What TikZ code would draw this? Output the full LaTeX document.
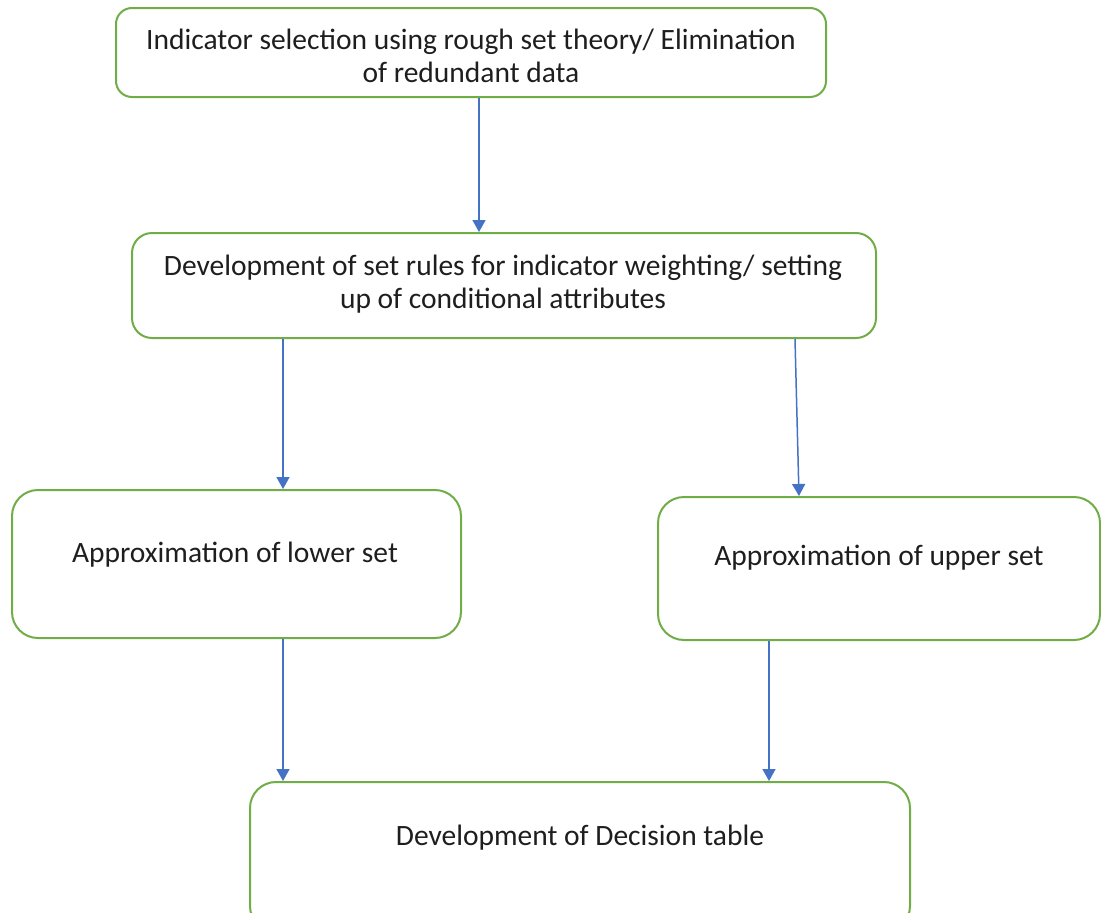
\documentclass[tikz,border=0pt]{standalone}
\usepackage{fontspec}
\setmainfont{Carlito}
\usetikzlibrary{arrows.meta}
\definecolor{boxgreen}{RGB}{112,173,71}
\definecolor{arrblue}{RGB}{68,114,196}
\definecolor{txtgray}{RGB}{30,30,30}
\begin{document}
\begin{tikzpicture}[x=1pt,y=-1pt,
  box/.style={draw=boxgreen,line width=2pt,rounded corners=#1,inner sep=0pt},
  box/.default=18pt,
  txt/.style={text=txtgray,align=center,font=\fontsize{29.5}{33}\selectfont,inner sep=0pt},
  arr/.style={draw=arrblue,line width=1.5pt,-{Triangle[length=12pt,width=13pt]}}]
\useasboundingbox (0,0) rectangle (1101,913);
\clip (0,0) rectangle (1101,913);
% boxes
\node[box=16pt,minimum width=710pt,minimum height=89pt] (b1) at (471,52.5) {};
\node[box=20pt,minimum width=744pt,minimum height=105pt] (b2) at (504,285.5) {};
\node[box=26pt,minimum width=449pt,minimum height=148pt] (b3) at (236.5,564) {};
\node[box=26pt,minimum width=442pt,minimum height=143pt] (b4) at (879,568.5) {};
\node[box=26pt,minimum width=660pt,minimum height=150pt] (b5) at (580,857) {};
% texts
\node[txt] (t1) at (471,56) {Indicator selection using rough set theory/ Elimination\\of redundant data};
\node[txt] (t2) at (503,284) {Development of set rules for indicator weighting/ setting\\up of conditional attributes};
\node[txt] (t3) at (235,555) {Approximation of lower set};
\node[txt] (t4) at (879,558) {Approximation of upper set};
\node[txt] (t5) at (580,838) {Development of Decision table};
% arrow x positions
\coordinate (x1) at (479,0);
\coordinate (x2) at (283,0);
\coordinate (x3a) at (795,0);
\coordinate (x3b) at (799,0);
\coordinate (x5) at (769,0);
% connectors
\draw[arr] (b1.south -| x1) -- (b2.north -| x1);
\draw[arr] (b2.south -| x2) -- (b3.north -| x2);
\draw[arr] (b2.south -| x3a) -- (b4.north -| x3b);
\draw[arr] (b3.south -| x2) -- (b5.north -| x2);
\draw[arr] (b4.south -| x5) -- (b5.north -| x5);
\end{tikzpicture}
\end{document}
